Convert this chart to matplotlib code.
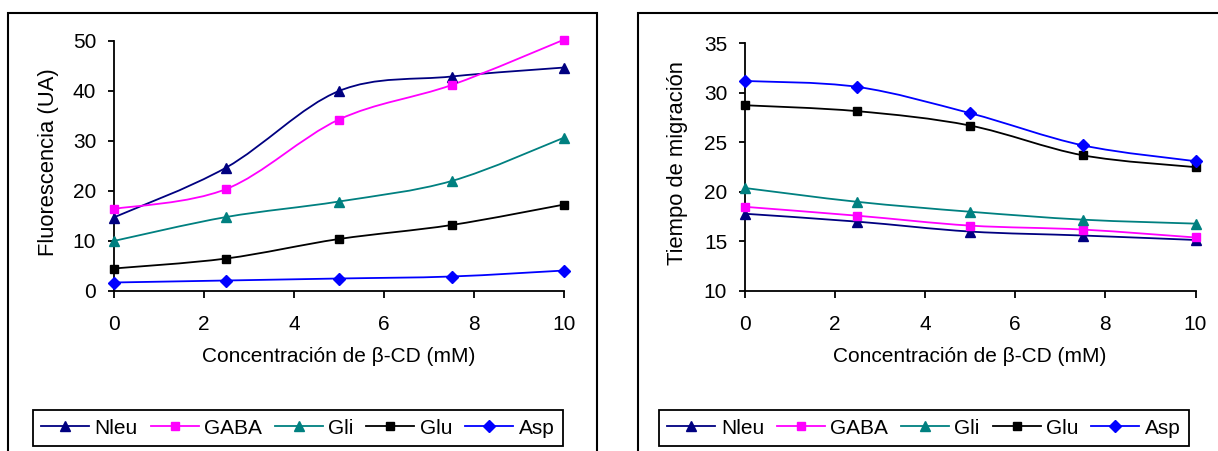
import numpy as np
import matplotlib
matplotlib.use("Agg")
import matplotlib.pyplot as plt
from matplotlib.path import Path
from matplotlib.patches import PathPatch, Rectangle
from matplotlib.lines import Line2D

plt.rcParams['font.family'] = ['Liberation Sans', 'DejaVu Sans']

# ---- data ----
conc = [0, 2.5, 5, 7.5, 10]
series = ["Nleu", "GABA", "Gli", "Glu", "Asp"]

fluor_nleu = [14.7, 24.7, 40.0, 42.9, 44.7]
fluor_gaba = [16.4, 20.4, 34.3, 41.2, 50.3]
fluor_gli = [10.0, 14.8, 17.9, 22.0, 30.7]
fluor_glu = [4.5, 6.5, 10.4, 13.2, 17.3]
fluor_asp = [1.7, 2.1, 2.5, 2.9, 4.1]

tiempo_nleu = [17.8, 17.0, 16.0, 15.6, 15.15]
tiempo_gaba = [18.5, 17.6, 16.6, 16.2, 15.4]
tiempo_gli = [20.4, 19.0, 18.0, 17.2, 16.8]
tiempo_glu = [28.75, 28.15, 26.7, 23.7, 22.5]
tiempo_asp = [31.2, 30.6, 27.95, 24.7, 23.1]

colors = ["#000080", "#FF00FF", "#008080", "#000000", "#0000FF"]
markers = ["^", "s", "^", "s", "D"]
msizes = [7.5, 6, 7.5, 6, 6]

x_label = "Concentración de β-CD (mM)"


def smooth_path(x, y):
    pts = np.column_stack([np.asarray(x, float), np.asarray(y, float)])
    n = len(pts)
    verts = [pts[0]]
    codes = [Path.MOVETO]
    for i in range(n - 1):
        p0 = pts[i - 1] if i > 0 else pts[i]
        p1 = pts[i]
        p2 = pts[i + 1]
        p3 = pts[i + 2] if i + 2 < n else pts[i + 1]
        c1 = p1 + (p2 - p0) / 6.0
        c2 = p2 - (p3 - p1) / 6.0
        verts += [c1, c2, p2]
        codes += [Path.CURVE4] * 3
    return Path(verts, codes)


W, H = 1218, 451
fig = plt.figure(figsize=(W / 100, H / 100), dpi=100)

# outer frames
fig.patches.append(Rectangle((8 / W, -0.2), (597 - 8) / W, 1.2 - 13 / H,
                             transform=fig.transFigure, fill=False,
                             edgecolor='black', linewidth=1.5))
fig.patches.append(Rectangle((638 / W, -0.2), 1.0, 1.2 - 13 / H,
                             transform=fig.transFigure, fill=False,
                             edgecolor='black', linewidth=1.5))


def make_panel(rect, data, ylim, yticks, ylabel, ylab_xy, legend_center):
    ax = fig.add_axes(rect)
    for vals, c, m, ms in zip(data, colors, markers, msizes):
        patch = PathPatch(smooth_path(conc, vals), fill=False, edgecolor=c,
                          linewidth=1.3, clip_on=False, zorder=2)
        ax.add_patch(patch)
        ax.plot(conc, vals, linestyle='none', marker=m, color=c,
                markersize=ms, clip_on=False, zorder=3)
    ax.set_xlim(0, 10)
    ax.set_ylim(*ylim)
    ax.set_xticks([0, 2, 4, 6, 8, 10])
    ax.set_yticks(yticks)
    for s in ['top', 'right']:
        ax.spines[s].set_visible(False)
    for s in ['left', 'bottom']:
        ax.spines[s].set_linewidth(1.3)
    ax.tick_params(axis='x', direction='out', length=5, width=1.3, pad=12,
                   labelsize=15)
    ax.tick_params(axis='y', direction='out', length=4.5, width=1.3, pad=8,
                   labelsize=15)
    ax.set_facecolor('none')
    cx = rect[0] + rect[2] / 2
    fig.text(cx, 1 - 357 / H, x_label, ha='center', va='center', fontsize=15)
    fig.text(ylab_xy[0] / W, 1 - ylab_xy[1] / H, ylabel, ha='center',
             va='center', rotation=90, fontsize=15.8)
    handles = [Line2D([], [], color=c, marker=m, markersize=ms, linewidth=1.3)
               for c, m, ms in zip(colors, markers, msizes)]
    leg = fig.legend(handles, series, loc='center',
                     bbox_to_anchor=(legend_center[0] / W, 1 - legend_center[1] / H),
                     ncol=5, frameon=True, fancybox=False, edgecolor='black',
                     framealpha=1, fontsize=15, handlelength=2.3,
                     handletextpad=0.26, columnspacing=0.62, borderpad=0.4)
    leg.get_frame().set_linewidth(1.3)
    return ax


make_panel([113.6 / W, 1 - 291 / H, (564.4 - 113.6) / W, 250 / H],
           [fluor_nleu, fluor_gaba, fluor_gli, fluor_glu, fluor_asp],
           (0, 50), [0, 10, 20, 30, 40, 50], "Fluorescencia (UA)",
           (49, 162.5), (297.75, 428))

make_panel([744.5 / W, 1 - 291 / H, (1195.5 - 744.5) / W, (291 - 43.3) / H],
           [tiempo_nleu, tiempo_gaba, tiempo_gli, tiempo_glu, tiempo_asp],
           (10, 35), [10, 15, 20, 25, 30, 35], "Tiempo de migración",
           (678, 163), (924, 428))

fig.savefig("out.png", dpi=100)
